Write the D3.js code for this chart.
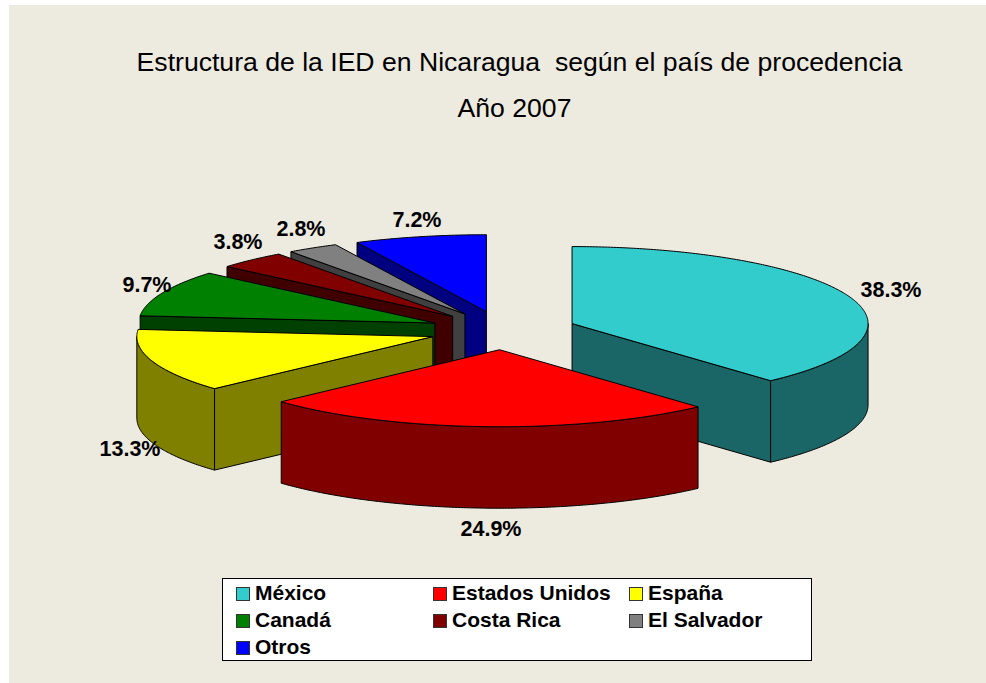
<!DOCTYPE html>
<html><head><meta charset="utf-8">
<script src="https://cdn.jsdelivr.net/npm/d3@7"></script>
<style>html,body{margin:0;padding:0;background:#fff}svg{display:block}text{font-family:"Liberation Sans",Arial,sans-serif;fill:#000}</style>
</head><body><svg id="c" width="986" height="683"></svg>
<script>
const categories = ["México","Estados Unidos","España","Canadá","Costa Rica","El Salvador","Otros"];
const values = [38.3,24.9,13.3,9.7,3.8,2.8,7.2];
const valueLabels = ["38.3%","24.9%","13.3%","9.7%","3.8%","2.8%","7.2%"];
const titleLines = ["Estructura de la IED en Nicaragua  según el país de procedencia","Año 2007"];
const topColors = ["#33CCCC","#FF0000","#FFFF00","#008000","#800000","#808080","#0000FF"];
const sideColors = ["#1A6666","#800000","#808000","#004000","#400000","#404040","#000080"];
const labelPos = [[891,297],[491,536],[130,456],[147,292],[238,249],[301,236],[417,227]];
const legendPos = [[236,587],[433,587],[629,587],[236,614],[433,614],[629,614],[236,641]];
const titleX = [519.5,514.5];

const cx=503, cy=330.5, rx=296, ry=77, depth=81.5, explode=0.25;
const svg=d3.select("#c");
svg.append("rect").attr("x",9).attr("y",5).attr("width",977).attr("height",678).attr("fill","#EDEAE0");

svg.selectAll("text.title").data(titleLines).join("text").attr("class","title")
  .attr("x",(d,i)=>titleX[i]).attr("y",(d,i)=>71+i*46).attr("text-anchor","middle")
  .attr("font-size",26.6).style("white-space","pre").text(d=>d);

const arcs=d3.pie().sort(null).value(d=>d)(values);
const ex=a=>rx*Math.sin(a), ey=a=>-ry*Math.cos(a);
const line=d3.line();
const slices=arcs.map((s,i)=>{const m=(s.startAngle+s.endAngle)/2;
  return {i,a0:s.startAngle,a1:s.endAngle,ax:cx+explode*ex(m),ay:cy+explode*ey(m)};});
const drawOrder=[6,5,4,3,2,0,1];
const g=svg.append("g").attr("stroke","#000").attr("stroke-width",1).attr("stroke-linejoin","round");
const arcPts=(s,a,b)=>{const n=Math.max(2,Math.ceil((b-a)/0.01));
  return d3.range(n+1).map(k=>{const t=a+(b-a)*k/n;return [s.ax+ex(t),s.ay+ey(t)];});};
drawOrder.forEach(i=>{const s=slices[i];
  const cut=a=>[[s.ax,s.ay],[s.ax+ex(a),s.ay+ey(a)],[s.ax+ex(a),s.ay+ey(a)+depth],[s.ax,s.ay+depth]];
  if(Math.sin(s.a0)<-1e-6) g.append("path").attr("d",line(cut(s.a0))+"Z").attr("fill",sideColors[i]);
  if(Math.sin(s.a1)>1e-6) g.append("path").attr("d",line(cut(s.a1))+"Z").attr("fill",sideColors[i]);
  const lo=Math.max(s.a0,Math.PI/2), hi=Math.min(s.a1,Math.PI*1.5);
  if(hi>lo){const p=arcPts(s,lo,hi);
    const w=p.concat(p.slice().reverse().map(q=>[q[0],q[1]+depth]));
    g.append("path").attr("d",line(w)+"Z").attr("fill",sideColors[i]);}
  const top=[[s.ax,s.ay]].concat(arcPts(s,s.a0,s.a1));
  g.append("path").attr("d",line(top)+"Z").attr("fill",topColors[i]);
});

svg.selectAll("text.lab").data(valueLabels).join("text").attr("class","lab")
  .attr("x",(d,i)=>labelPos[i][0]).attr("y",(d,i)=>labelPos[i][1]).attr("text-anchor","middle")
  .attr("font-size",21.5).attr("font-weight","bold").text(d=>d);

svg.append("rect").attr("x",222.5).attr("y",578.5).attr("width",589).attr("height",82)
  .attr("fill","#fff").attr("stroke","#000");
const lg=svg.selectAll("g.leg").data(categories).join("g").attr("class","leg")
  .attr("transform",(d,i)=>`translate(${legendPos[i][0]},${legendPos[i][1]})`);
lg.append("rect").attr("x",.5).attr("y",.5).attr("width",13).attr("height",13)
  .attr("fill",(d,i)=>topColors[i]).attr("stroke","#333");
lg.append("text").attr("x",19).attr("y",13).attr("font-size",21).attr("font-weight","bold").text(d=>d);
</script></body></html>
